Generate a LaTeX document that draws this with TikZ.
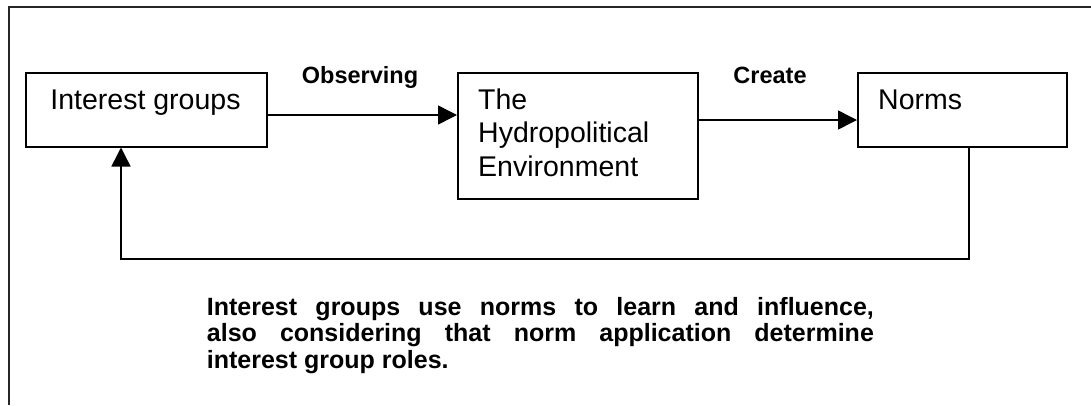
\documentclass[tikz,border=0pt]{standalone}
\usepackage{fontspec}
\setmainfont{Liberation Sans}
\usetikzlibrary{arrows.meta}
\begin{document}
\begin{tikzpicture}[x=1pt,y=-1pt,
  box/.style={draw, line width=1.5pt, inner sep=0pt, anchor=north west},
  arr/.style={line width=1.5pt, -{Triangle[length=19pt,width=19pt]}},
  big/.style={font=\fontsize{28.5}{33.5}\selectfont, inner sep=0pt},
  lab/.style={font=\bfseries\fontsize{23.5}{27}\selectfont, inner sep=0pt}]
\useasboundingbox (0,0) rectangle (1091,405);
\draw[line width=1.3pt, black!85] (9,405) -- (9,7) -- (1091,7);
\node[box, minimum width=241pt, minimum height=74pt] (ig) at (25,72) {};
\node[box, minimum width=240pt, minimum height=126pt] (hy) at (457,72) {};
\node[box, minimum width=209pt, minimum height=74pt] (no) at (857,72) {};
\node[big, anchor=base] (igt) at (145.5,109.3) {Interest groups};
\node[big, anchor=north west, align=left] (hyt) at (478,88.5) {The\\Hydropolitical\\Environment};
\node[big, anchor=base west] (not) at (878,109.3) {Norms};
\node[lab, anchor=base] (obs) at (360,83.3) {Observing};
\node[lab, anchor=base] (cre) at (770,83.3) {Create};
\draw[arr] (ig.east |- 0,115) -- (hy.west |- 0,115);
\draw[arr] (hy.east |- 0,120) -- (no.west |- 0,120);
\draw[arr] (no.south -| 969,0) -- (969,259) -| (ig.south -| 121,0);
\node[anchor=north west, text width=667pt, align=justify, inner sep=0pt,
  font=\bfseries\fontsize{25}{26.5}\selectfont] (txt) at (206.7,296.7)
  {Interest groups use norms to learn and influence,\linebreak also considering that norm application determine\linebreak interest group roles.};
\end{tikzpicture}
\end{document}
